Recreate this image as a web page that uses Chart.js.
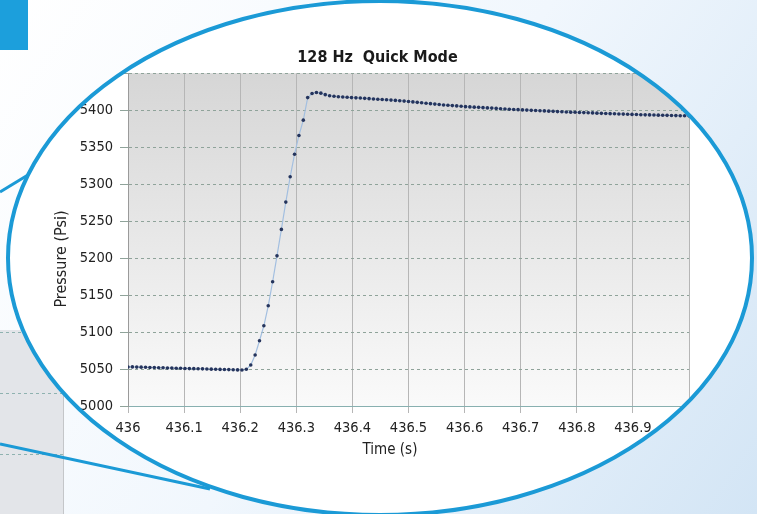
<!DOCTYPE html>
<html lang="en">
<head>
    <meta charset="UTF-8">
    <title>128 Hz Quick Mode</title>
    <script src="https://cdn.jsdelivr.net/npm/chart.js@4.4.1/dist/chart.umd.min.js"></script>
    <style>
        html, body { margin: 0; padding: 0; background: #fff; }
        #wrap { width: 757px; height: 514px; }
    </style>
</head>
<body>
<div id="wrap"><canvas id="pressureChart" width="757" height="514"></canvas></div>

<script>
    // sample times (s), 128 Hz
    const timeS = [
        436.0000, 436.0078, 436.0156, 436.0234, 436.0313, 436.0391, 436.0469, 436.0547,
        436.0625, 436.0703, 436.0781, 436.0859, 436.0938, 436.1016, 436.1094, 436.1172,
        436.1250, 436.1328, 436.1406, 436.1484, 436.1563, 436.1641, 436.1719, 436.1797,
        436.1875, 436.1953, 436.2031, 436.2109, 436.2188, 436.2266, 436.2344, 436.2422,
        436.2500, 436.2578, 436.2656, 436.2734, 436.2813, 436.2891, 436.2969, 436.3047,
        436.3125, 436.3203, 436.3281, 436.3359, 436.3438, 436.3516, 436.3594, 436.3672,
        436.3750, 436.3828, 436.3906, 436.3984, 436.4063, 436.4141, 436.4219, 436.4297,
        436.4375, 436.4453, 436.4531, 436.4609, 436.4688, 436.4766, 436.4844, 436.4922,
        436.5000, 436.5078, 436.5156, 436.5234, 436.5313, 436.5391, 436.5469, 436.5547,
        436.5625, 436.5703, 436.5781, 436.5859, 436.5938, 436.6016, 436.6094, 436.6172,
        436.6250, 436.6328, 436.6406, 436.6484, 436.6563, 436.6641, 436.6719, 436.6797,
        436.6875, 436.6953, 436.7031, 436.7109, 436.7188, 436.7266, 436.7344, 436.7422,
        436.7500, 436.7578, 436.7656, 436.7734, 436.7813, 436.7891, 436.7969, 436.8047,
        436.8125, 436.8203, 436.8281, 436.8359, 436.8438, 436.8516, 436.8594, 436.8672,
        436.8750, 436.8828, 436.8906, 436.8984, 436.9063, 436.9141, 436.9219, 436.9297,
        436.9375, 436.9453, 436.9531, 436.9609, 436.9688, 436.9766, 436.9844, 436.9922,
        437.0000
    ];

    // pressure (Psi)
    const pressurePsi = [
        5052.8, 5052.9, 5052.6, 5052.5, 5052.4, 5052.1, 5052.0, 5051.8,
        5051.7, 5051.4, 5051.3, 5051.1, 5051.0, 5050.8, 5050.6, 5050.5,
        5050.3, 5050.2, 5050.0, 5049.8, 5049.7, 5049.5, 5049.3, 5049.2,
        5049.0, 5048.8, 5048.7, 5049.6, 5055.4, 5069.0, 5088.2, 5108.5,
        5135.5, 5168.0, 5203.0, 5238.8, 5275.7, 5310.0, 5340.5, 5365.8,
        5386.5, 5417.0, 5422.6, 5424.0, 5423.0, 5421.0, 5419.5, 5418.8,
        5418.2, 5417.8, 5417.4, 5417.0, 5416.7, 5416.4, 5416.0, 5415.6,
        5415.2, 5414.8, 5414.4, 5414.0, 5413.6, 5413.2, 5412.8, 5412.3,
        5411.8, 5411.2, 5410.6, 5410.0, 5409.4, 5408.8, 5408.2, 5407.6,
        5407.1, 5406.7, 5406.2, 5405.8, 5405.3, 5404.8, 5404.4, 5404.1,
        5403.8, 5403.4, 5403.1, 5402.8, 5402.4, 5402.0, 5401.6, 5401.3,
        5401.0, 5400.7, 5400.4, 5400.1, 5399.8, 5399.6, 5399.3, 5399.0,
        5398.7, 5398.4, 5398.1, 5397.8, 5397.5, 5397.3, 5397.1, 5396.9,
        5396.7, 5396.5, 5396.3, 5396.0, 5395.7, 5395.5, 5395.3, 5395.1,
        5394.9, 5394.7, 5394.5, 5394.3, 5394.1, 5393.9, 5393.7, 5393.6,
        5393.4, 5393.3, 5393.1, 5393.0, 5392.8, 5392.7, 5392.5, 5392.4,
        5392.3
    ];

    const xTickLabels = ['436', '436.1', '436.2', '436.3', '436.4', '436.5', '436.6', '436.7', '436.8', '436.9', ''];
    const yTickLabels = ['5000', '5050', '5100', '5150', '5200', '5250', '5300', '5350', '5400', ''];

    const FONT = "'Liberation Sans Narrow', 'DejaVu Sans Condensed', sans-serif";
    const BLUE = '#1b9ad6';
    const lens = { cx: 380, cy: 258, rx: 372, ry: 257 };

    // page background, magnifier lens and the plot background gradient
    const lensPlugin = {
        id: 'lens',
        beforeDraw(chart) {
            const ctx = chart.ctx, w = chart.width, h = chart.height;
            ctx.save();

            const bg = ctx.createLinearGradient(0, 0, w, h);
            bg.addColorStop(0, '#ffffff');
            bg.addColorStop(0.5, '#f1f7fd');
            bg.addColorStop(1, '#d3e5f5');
            ctx.fillStyle = bg;
            ctx.fillRect(0, 0, w, h);

            // grey panel peeking out on the left
            ctx.fillStyle = '#e3e5e9';
            ctx.fillRect(0, 330, 63, h - 330);
            ctx.strokeStyle = '#c4c6c9';
            ctx.lineWidth = 1;
            ctx.beginPath(); ctx.moveTo(63.5, 330); ctx.lineTo(63.5, h); ctx.stroke();
            ctx.strokeStyle = '#8fb2b0';
            ctx.setLineDash([3, 3]);
            [332.5, 393.5, 454.5].forEach(y => {
                ctx.beginPath(); ctx.moveTo(0, y); ctx.lineTo(63, y); ctx.stroke();
            });
            ctx.setLineDash([]);

            ctx.fillStyle = '#1c9fdc';
            ctx.fillRect(0, 0, 28, 50);

            // connector lines to the lens
            ctx.strokeStyle = BLUE;
            ctx.lineWidth = 3;
            ctx.beginPath(); ctx.moveTo(0, 192); ctx.lineTo(46, 164); ctx.stroke();
            ctx.beginPath(); ctx.moveTo(0, 444); ctx.lineTo(210, 489); ctx.stroke();

            ctx.beginPath();
            ctx.ellipse(lens.cx, lens.cy, lens.rx, lens.ry, 0, 0, Math.PI * 2);
            ctx.fillStyle = '#ffffff';
            ctx.fill();
            ctx.clip();

            const a = chart.chartArea;
            const g = ctx.createLinearGradient(0, a.top, 0, a.bottom);
            g.addColorStop(0, '#d6d6d6');
            g.addColorStop(1, '#fafafa');
            ctx.fillStyle = g;
            ctx.fillRect(a.left, a.top, a.right - a.left, a.bottom - a.top);
        },
        afterDraw(chart) {
            const ctx = chart.ctx;
            const sx = chart.options.scales.x.title, sy = chart.options.scales.y.title;

            ctx.fillStyle = '#222';
            ctx.textAlign = 'center';
            ctx.textBaseline = 'middle';
            ctx.font = '15px ' + FONT;
            ctx.fillText(sx.text, 390, 450);

            ctx.save();
            ctx.translate(62, 259);
            ctx.rotate(-Math.PI / 2);
            ctx.font = '16px ' + FONT;
            ctx.fillText(sy.text, 0, 0);
            ctx.restore();

            ctx.restore();  // drops the lens clip

            ctx.save();
            ctx.beginPath();
            ctx.ellipse(lens.cx, lens.cy, lens.rx, lens.ry, 0, 0, Math.PI * 2);
            ctx.strokeStyle = BLUE;
            ctx.lineWidth = 4;
            ctx.stroke();
            ctx.restore();
        }
    };

    Chart.defaults.font.family = FONT;
    Chart.defaults.color = '#222';

    new Chart('pressureChart', {
        type: 'line',
        data: {
            datasets: [{
                data: timeS.map((t, i) => ({ x: t, y: pressurePsi[i] })),
                borderColor: '#a3bfe0',
                borderWidth: 1.2,
                pointRadius: 1.8,
                pointBackgroundColor: '#25345c',
                pointBorderWidth: 0,
                tension: 0
            }]
        },
        options: {
            responsive: false,
            animation: false,
            layout: { padding: { left: 66, right: 68, top: 0, bottom: 55 } },
            plugins: {
                legend: { display: false },
                tooltip: { enabled: false },
                title: {
                    display: true,
                    text: '128 Hz  Quick Mode',
                    color: '#1a1a1a',
                    font: { size: 16, weight: 'bold' },
                    padding: { top: 48, bottom: 6 }
                }
            },
            scales: {
                x: {
                    type: 'linear',
                    min: 436,
                    max: 437,
                    afterFit: s => { s.height = 53; },
                    ticks: {
                        stepSize: 0.1,
                        autoSkip: false,
                        maxRotation: 0,
                        padding: 7,
                        font: { size: 14.5 },
                        color: '#222',
                        callback: (v, i) => xTickLabels[i]
                    },
                    grid: { color: '#b6b6b6', lineWidth: 1, tickLength: 7 },
                    border: { color: '#88b0b0', width: 1 },
                    title: { display: false, text: 'Time (s)' }
                },
                y: {
                    min: 5000,
                    max: 5450,
                    afterFit: s => { s.width = 62; },
                    ticks: {
                        stepSize: 50,
                        padding: 7,
                        font: { size: 14.5 },
                        color: '#222',
                        callback: (v, i) => yTickLabels[i]
                    },
                    grid: { color: '#8fa39a', lineWidth: 1, tickLength: 8 },
                    border: { color: '#9a9a9a', width: 1, dash: [3, 3] },
                    title: { display: false, text: 'Pressure (Psi)' }
                }
            }
        },
        plugins: [lensPlugin]
    });
</script>
</body>
</html>
